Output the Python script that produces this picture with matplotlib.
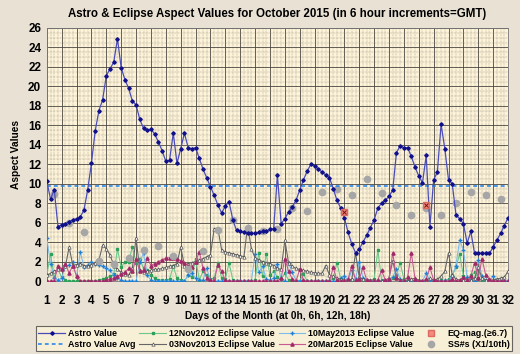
import matplotlib
matplotlib.use('Agg')
import matplotlib.pyplot as plt
from matplotlib.ticker import MultipleLocator
import numpy as np

plt.rcParams['font.family'] = ['Liberation Sans', 'DejaVu Sans']
plt.rcParams['font.weight'] = 'bold'

# 6-hourly values, day 1 0h .. day 32 0h (4 values per day)
astro = [10.3, 8.4, 9.4, 5.6,  5.8, 5.9, 6.1, 6.3,  6.4, 6.6, 7.3, 9.4,
         12.1, 15.4, 17.5, 18.6,  21.1, 21.8, 22.5, 24.9,  21.9, 20.7, 19.8, 18.5,
         18.1, 16.6, 15.7, 15.5,  15.6, 15.1, 14.3, 13.4,  12.3, 12.4, 15.2, 12.1,
         13.6, 15.2, 13.7, 13.6,  13.7, 12.6, 11.5, 10.6,  9.7, 8.8, 7.8, 7.0,
         7.7, 8.15, 6.3, 5.2,  5.1, 5.0, 4.95, 4.9,  4.9, 5.0, 5.1, 5.15,
         5.3, 5.4, 10.9, 5.9,  6.4, 7.1, 7.6, 8.3,  9.35, 10.4, 11.3, 12.0,
         11.85, 11.5, 11.2, 10.9,  10.6, 9.5, 8.3, 7.5,  6.5, 5.0, 3.8, 2.9,
         3.3, 4.0, 4.7, 5.5,  6.3, 7.5, 8.0, 8.3,  8.7, 9.35, 13.2, 13.9,
         13.7, 13.7, 12.8, 11.7,  10.8, 10.1, 12.9, 5.6,  10.4, 11.2, 16.1, 13.6,
         10.4, 10.0, 6.8, 6.4,  5.9, 3.9, 5.1, 2.85,  2.85, 2.85, 2.85, 2.85,
         3.5, 4.2, 4.9, 5.7,  6.5]
astro_avg = 9.75

ecl_12nov2012 = [0.6, 2.8, 0.4, 1.2,  0.4, 0.1, 0.0, 0.0,  0.0, 0.0, 0.0, 0.0,
                 0.0, 0.0, 0.1, 0.2,  0.3, 0.5, 0.7, 3.3,  1.4, 2.0, 2.0, 3.5,
                 1.9, 2.3, 1.3, 1.1,  0.6, 0.3, 0.1, 0.1,  0.1, 0.2, 1.5, 0.3,
                 0.1, 0.0, 0.6, 0.4,  2.3, 0.1, 1.0, 0.6,  0.2, 0.3, 1.9, 0.3,
                 0.2, 1.9, 0.1, 0.0,  0.0, 0.0, 0.0, 0.0,  0.1, 2.9, 0.5, 2.8,
                 0.6, 1.0, 0.4, 0.2,  0.8, 0.1, 0.0, 0.0,  0.0, 0.7, 0.0, 0.0,
                 0.0, 0.0, 0.0, 0.0,  0.0, 0.3, 1.9, 0.2,  0.0, 0.0, 0.1, 0.0,
                 0.3, 0.0, 0.0, 0.0,  0.2, 3.2, 0.1, 0.0,  0.1, 0.3, 0.6, 1.9,
                 0.2, 0.0, 0.0, 0.0,  0.0, 0.0, 0.0, 0.0,  0.0, 0.0, 0.1, 0.0,
                 0.2, 0.6, 1.4, 2.8,  0.5, 0.2, 0.6, 0.9,  0.3, 0.1, 0.0, 0.0,
                 0.0, 0.0, 0.0, 0.0,  0.0]

ecl_10may2013 = [4.4, 1.8, 0.3, 0.1,  0.3, 1.5, 1.65, 2.0,  0.4, 3.0, 1.4, 1.65,
                 2.0, 1.8, 1.7, 1.5,  1.3, 1.1, 0.6, 0.3,  0.1, 0.0, 0.0, 0.0,
                 0.0, 2.0, 2.85, 0.6,  0.1, 0.0, 0.0, 0.0,  0.0, 0.0, 0.0, 0.0,
                 0.0, 0.0, 0.6, 0.8,  0.3, 0.1, 0.1, 1.3,  0.1, 0.0, 0.0, 0.0,
                 0.0, 0.0, 0.0, 0.0,  0.0, 0.0, 0.0, 0.0,  2.8, 0.9, 1.5, 0.2,
                 0.1, 0.3, 1.8, 0.2,  0.0, 1.9, 0.9, 0.1,  0.0, 0.0, 0.0, 0.0,
                 0.0, 0.0, 0.0, 0.0,  0.0, 0.0, 0.0, 0.3,  0.5, 0.1, 1.1, 0.2,
                 2.0, 0.3, 0.1, 0.0,  0.0, 0.0, 0.0, 0.0,  0.0, 0.4, 1.2, 0.2,
                 0.0, 0.0, 0.0, 0.0,  0.0, 0.0, 0.8, 0.1,  0.0, 0.0, 0.0, 0.1,
                 0.0, 0.5, 1.6, 4.2,  3.2, 0.4, 0.1, 0.0,  2.2, 0.5, 0.1, 0.0,
                 0.5, 0.1, 0.0, 0.0,  0.0]

ecl_03nov2013 = [0.6, 0.8, 1.0, 1.2,  1.3, 1.5, 3.5, 1.6,  1.7, 1.8, 1.6, 1.5,
                 1.7, 1.9, 2.1, 3.7,  3.3, 2.7, 1.6, 1.2,  0.9, 0.7, 0.6, 1.3,
                 4.45, 1.1, 0.9, 1.0,  1.1, 1.2, 1.2, 1.3,  1.4, 1.5, 1.6, 1.8,
                 3.5, 1.6, 1.8, 1.9,  2.0, 2.15, 2.3, 2.5,  2.7, 5.4, 5.4, 3.2,
                 3.0, 2.9, 2.8, 2.7,  2.6, 2.5, 5.7, 3.3,  2.4, 2.2, 2.0, 1.9,
                 1.8, 1.6, 1.3, 1.2,  4.2, 1.85, 1.5, 1.3,  1.2, 1.1, 1.0, 0.9,
                 0.85, 0.8, 0.8, 1.6,  0.6, 0.5, 0.3, 0.2,  0.1, 0.1, 0.2, 2.9,
                 0.4, 0.2, 0.1, 0.1,  0.1, 0.0, 0.0, 0.1,  0.3, 2.1, 0.4, 0.1,
                 0.1, 0.0, 0.2, 0.3,  0.1, 0.0, 0.1, 0.3,  0.1, 0.2, 0.5, 1.0,
                 2.9, 0.6, 0.2, 0.1,  0.1, 0.2, 0.1, 0.3,  1.4, 0.3, 0.1, 0.1,
                 0.1, 0.2, 0.3, 0.4,  1.0]

ecl_20mar2015 = [0.0, 0.0, 0.0, 1.6,  1.2, 1.8, 0.8, 1.6,  0.5, 0.0, 0.0, 0.0,
                 0.0, 0.0, 0.0, 0.0,  0.1, 0.2, 0.3, 0.5,  0.7, 0.9, 1.3, 1.0,
                 2.3, 1.0, 1.1, 2.35,  1.6, 1.8, 2.0, 2.2,  2.35, 2.4, 2.4, 2.3,
                 2.1, 1.9, 1.6, 1.4,  2.0, 3.0, 1.3, 0.3,  0.1, 0.0, 1.7, 1.0,
                 0.1, 0.0, 0.0, 0.0,  0.0, 0.0, 0.0, 0.0,  0.0, 0.0, 0.0, 0.0,
                 0.0, 0.0, 0.0, 0.3,  2.3, 1.0, 0.2, 0.0,  1.2, 0.1, 0.0, 0.0,
                 0.0, 0.0, 0.0, 0.0,  0.0, 1.4, 0.1, 0.0,  0.0, 0.2, 1.6, 0.1,
                 0.2, 1.4, 0.1, 0.0,  0.0, 0.1, 1.1, 0.1,  0.2, 2.9, 0.3, 0.0,
                 0.0, 0.4, 2.9, 0.2,  0.0, 0.0, 0.2, 1.4,  0.1, 0.0, 0.0, 0.0,
                 0.0, 0.2, 0.0, 0.1,  0.4, 0.1, 0.5, 1.9,  0.3, 2.3, 0.6, 0.2,
                 0.0, 0.0, 0.0, 0.0,  0.0]

eq_days = [21.0, 26.5]
eq_mag = [7.1, 7.8]

ss_days = [d + 0.5 for d in range(1, 32)]
ss_vals = [8.9, 6.0, 5.0, 2.1, 1.8, 2.4, 3.2, 3.6, 2.6, 1.2, 3.1, 5.2, 6.3, 5.5, 5.1,
           5.4, 7.5, 7.2, 9.1, 9.5, 8.8, 10.45, 9.0, 7.8, 6.8, 7.5, 6.8, 8.0, 9.2, 8.8, 8.4]

days = np.arange(len(astro)) * 0.25 + 1

fig = plt.figure(figsize=(5.2, 3.54), dpi=100, facecolor='#e8e1d4')
ax = fig.add_axes([0.090, 0.206, 0.887, 0.715], facecolor='#fdf3d9')

ax.xaxis.set_major_locator(MultipleLocator(1))
ax.xaxis.set_minor_locator(MultipleLocator(0.25))
ax.yaxis.set_major_locator(MultipleLocator(2))
ax.yaxis.set_minor_locator(MultipleLocator(0.5))
ax.grid(which='major', color='#4a4640', linewidth=0.6)
ax.grid(which='minor', color='#8a8275', linewidth=0.35, linestyle=(0, (1.5, 1.5)))
ax.set_axisbelow(True)

ax.plot(days, ecl_12nov2012, color='#6cc98a', lw=0.8, marker='s', ms=2,
        mfc='#2ea05a', mec='#2ea05a', label='12Nov2012 Eclipse Value', zorder=3)
ax.plot(days, ecl_10may2013, color='#7cbcec', lw=0.8, marker='+', ms=3,
        mec='#1f7fd6', mew=1.0, label='10May2013 Eclipse Value', zorder=3)
ax.plot(days, ecl_03nov2013, color='#666666', lw=0.8, marker='^', ms=2.4,
        mfc='white', mec='#505050', mew=0.5, label='03Nov2013 Eclipse Value', zorder=3)
ax.plot(days, ecl_20mar2015, color='#c85a92', lw=0.8, marker='^', ms=2.3,
        mfc='#a02a68', mec='#a02a68', label='20Mar2015 Eclipse Value', zorder=3)
ax.plot(ss_days, ss_vals, linestyle='none', marker='o', ms=4.5, color='#a6a6a6',
        label='SS#s (X1/10th)', zorder=4)
ax.axhline(astro_avg, color='#1a7ff0', lw=1.1, linestyle=(0, (2.5, 2)),
           label='Astro Value Avg', zorder=4)
ax.plot(days, astro, color='#4a4db8', lw=0.9, marker='D', ms=1.8,
        mfc='#10108a', mec='#10108a', label='Astro Value', zorder=5)
ax.plot(eq_days, eq_mag, linestyle='none', marker='s', ms=5, mfc='#f08a82',
        mec='#e06a60', label='EQ-mag.(\u22656.7)', zorder=6)
ax.plot(eq_days, eq_mag, linestyle='none', marker='x', ms=2.2, color='#7a1010',
        mew=0.7, zorder=7)

ax.set_xlim(1, 32)
ax.set_ylim(0, 26)
ax.tick_params(which='both', length=0, labelsize=8.5, pad=4)
ax.tick_params(axis='x', pad=10)
for lab in ax.get_xticklabels() + ax.get_yticklabels():
    lab.set_fontweight('bold')
for s in ax.spines.values():
    s.set_color('#777777')
    s.set_linewidth(0.6)

ax.set_title('Astro & Eclipse Aspect Values for October 2015 (in 6 hour increments=GMT)',
             fontsize=8.3, fontweight='bold', pad=8)
ax.set_ylabel('Aspect Values', fontsize=7.3, fontweight='bold', labelpad=5)
ax.set_xlabel('Days of the Month (at 0h, 6h, 12h, 18h)', fontsize=7.3,
              fontweight='bold', labelpad=3)

h, l = ax.get_legend_handles_labels()
order = ['Astro Value', 'Astro Value Avg', '12Nov2012 Eclipse Value', '03Nov2013 Eclipse Value',
         '10May2013 Eclipse Value', '20Mar2015 Eclipse Value', 'EQ-mag.(\u22656.7)', 'SS#s (X1/10th)']
hd = dict(zip(l, h))
leg = fig.legend([hd[k] for k in order], order, ncol=4, loc='lower center',
                 bbox_to_anchor=(0.527, -0.005), fontsize=6.4, frameon=True,
                 fancybox=False, edgecolor='#444444', facecolor='#fdf3d9',
                 handlelength=3.0, columnspacing=0.4, handletextpad=0.35,
                 labelspacing=0.2, borderpad=0.3)
leg.get_frame().set_linewidth(0.8)
for t in leg.get_texts():
    t.set_fontweight('bold')

fig.savefig('out.png', dpi=100, facecolor=fig.get_facecolor())
